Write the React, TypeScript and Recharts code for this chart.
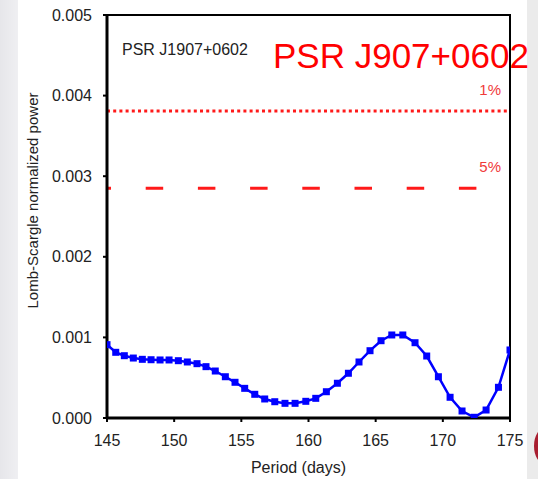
import React from 'react';
import { LineChart, Line, XAxis, YAxis, ReferenceLine, ReferenceArea } from 'recharts';

const periods = [
  145.0, 145.65, 146.29, 146.96, 147.63, 148.28, 148.95, 149.62, 150.31, 150.98,
  151.7, 152.37, 153.06, 153.81, 154.53, 155.25, 156.0, 156.74, 157.49, 158.25,
  159.0, 159.8, 160.54, 161.33, 162.15, 162.97, 163.76, 164.58, 165.4, 166.2,
  167.02, 167.93, 168.8, 169.67, 170.54, 171.43, 172.33, 173.22, 174.14, 175.0,
];
const power = [
  0.00091, 0.000815, 0.000773, 0.000744, 0.000728, 0.000723, 0.00072, 0.00072, 0.000711, 0.000695,
  0.000674, 0.000637, 0.000583, 0.000512, 0.000443, 0.000368, 0.000294, 0.000236, 0.000202, 0.000182,
  0.000182, 0.000207, 0.000244, 0.000326, 0.000431, 0.000555, 0.000695, 0.000835, 0.000959, 0.00103,
  0.00103, 0.000934, 0.000769, 0.000512, 0.000257, 0.000087, 0.000009, 0.000099, 0.000381, 0.000844,
];
const xTicks = [145, 150, 155, 160, 165, 170, 175];
const yTicks = [0, 0.001, 0.002, 0.003, 0.004, 0.005];
const level1 = 0.00381;
const level5 = 0.00285;
const smallTitle = 'PSR J1907+0602';
const bigTitle = 'PSR J907+0602';
const xLabel = 'Period (days)';
const yLabel = 'Lomb-Scargle normalized power';

const data = periods.map((p, i) => ({ period: p, power: power[i] }));

const FONT = '"Liberation Sans", Arial, sans-serif';

const SquareDot = (props: any) => {
  const { cx, cy } = props;
  if (cx == null || cy == null) return null;
  return <rect x={cx - 3.5} y={cy - 3.5} width={7} height={7} fill="#0000ff" />;
};

const levelLabel = (text: string) => (props: any) => {
  const vb = props.viewBox || {};
  return (
    <text
      x={vb.x + vb.width - 9}
      y={vb.y - 16}
      textAnchor="end"
      fontFamily={FONT}
      fontSize={15}
      fill="#f03a3a"
    >
      {text}
    </text>
  );
};

export default function App() {
  return (
    <div
      style={{
        position: 'absolute',
        left: 0,
        top: 0,
        width: 538,
        height: 479,
        overflow: 'hidden',
        background: '#ffffff',
      }}
    >
      <div style={{ position: 'absolute', left: 0, top: 0, width: 18, height: 479, background: 'linear-gradient(90deg,#e6e6ea,#efeff2)' }} />
      <div style={{ position: 'absolute', left: 527, top: 0, width: 11, height: 479, background: '#ebebeb' }} />
      <div style={{ position: 'absolute', left: 534, top: 428, width: 22, height: 36, borderRadius: '50%', background: '#a81e30' }} />
      <div style={{ position: 'absolute', left: 0, top: 0 }}>
        <LineChart width={538} height={479} data={data} margin={{ top: 15, right: 28, bottom: 21, left: 47 }}>
          <ReferenceArea x1={145} x2={175} y1={0} y2={0.005} fill="none" stroke="#000" strokeWidth={2} ifOverflow="visible" />
          <XAxis
            dataKey="period"
            type="number"
            domain={[145, 175]}
            ticks={xTicks}
            allowDataOverflow
            height={40}
            tickSize={4}
            tickMargin={13}
            axisLine={{ stroke: '#000', strokeWidth: 3 }}
            tickLine={{ stroke: '#000', strokeWidth: 2 }}
            tick={{ fill: '#222', fontSize: 16, fontFamily: FONT }}
            label={(props: any) => {
              const vb = props.viewBox || {};
              return (
                <text x={vb.x + vb.width / 2 - 10} y={vb.y + 55} textAnchor="middle" fontFamily={FONT} fontSize={16} fill="#222">
                  {xLabel}
                </text>
              );
            }}
          />
          <YAxis
            type="number"
            domain={[0, 0.005]}
            ticks={yTicks}
            allowDataOverflow
            width={60}
            tickSize={4}
            tickMargin={11}
            tickFormatter={(v: number) => v.toFixed(3)}
            axisLine={{ stroke: '#000', strokeWidth: 3 }}
            tickLine={{ stroke: '#000', strokeWidth: 2 }}
            tick={{ fill: '#222', fontSize: 16, fontFamily: FONT }}
            label={(props: any) => {
              const vb = props.viewBox || {};
              const cx = vb.x - 15;
              const cy = vb.y + vb.height / 2 - 16;
              return (
                <text x={cx} y={cy} transform={`rotate(-90 ${cx} ${cy})`} textAnchor="middle" dominantBaseline="central" fontFamily={FONT} fontSize={15} fill="#222">
                  {yLabel}
                </text>
              );
            }}
          />
          <ReferenceLine
            y={level1}
            stroke="#ff1a1a"
            strokeWidth={3}
            strokeDasharray="3 3.2"
            label={levelLabel('1%')}
          />
          <ReferenceLine
            y={level5}
            stroke="#ff1a1a"
            strokeWidth={3}
            strokeDasharray="17.5 34.7"
            strokeDashoffset={13.5}
            label={levelLabel('5%')}
          />
          <Line
            type="linear"
            dataKey="power"
            stroke="#0000ff"
            strokeWidth={2.5}
            dot={<SquareDot />}
            activeDot={false}
            isAnimationActive={false}
          />
        </LineChart>
      </div>
      <div style={{ position: 'absolute', left: 122, top: 40, fontFamily: FONT, fontSize: 16, color: '#222', whiteSpace: 'nowrap', lineHeight: '20px' }}>
        {smallTitle}
      </div>
      <div style={{ position: 'absolute', left: 273, top: 36, fontFamily: FONT, fontSize: 35, color: '#ff0000', whiteSpace: 'nowrap', lineHeight: '40px' }}>
        {bigTitle}
      </div>
    </div>
  );
}
